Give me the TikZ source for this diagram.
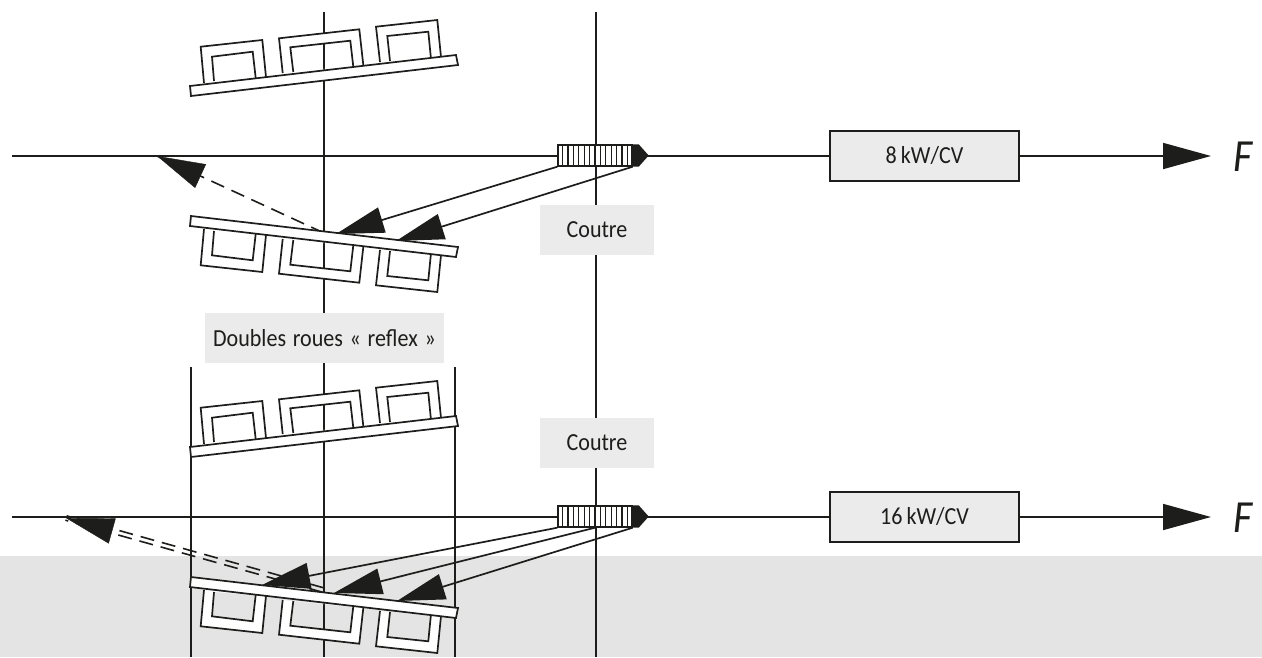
\documentclass[tikz,border=0pt]{standalone}
\usepackage{fontspec}
\setmainfont[FakeStretch=0.9,WordSpace=1.35]{Carlito}
\usetikzlibrary{arrows.meta, calc}
\definecolor{encre}{RGB}{29,29,27}
\definecolor{bande}{RGB}{227,228,227}
\definecolor{cartouche}{RGB}{235,235,235}
\tikzset{
  trait/.style={line width=1.7pt, color=encre},
  fleche/.style={-{Triangle[length=48pt,width=26pt]}, line width=1.7pt, color=encre},
  pointille/.style={line width=1.6pt, color=encre, dash pattern=on 14pt off 8pt},
  tete/.style={-{Triangle[length=48pt,width=26pt]}, color=encre, dash pattern=on 0pt off 2000pt},
  etiquette/.style={rectangle, fill=cartouche, text=encre, font=\fontsize{24.5}{26}\selectfont,
    minimum height=50pt, inner sep=0pt},
  boite/.style={rectangle, draw=encre, fill=cartouche, text=encre, line width=1.7pt,
    minimum width=189pt, minimum height=50pt, font=\fontsize{24.5}{26}\selectfont, inner sep=0pt},
  force/.style={text=encre, font=\fontsize{46}{50}\selectfont\itshape, inner sep=0pt},
  socbox/.style={rectangle, draw=encre, fill=white, line width=1.4pt,
    minimum width=74pt, minimum height=21pt, inner sep=0pt},
  roues/.pic={
    \pneu{(204,-73)}{(200.7,-109.3)}{(262.3,-116)}{(266,-79)}{(214,-75)}{(212,-99.3)}{(252.7,-104.3)}{(255.7,-78)}
    \pneu{(282.7,-83)}{(279,-117.7)}{(359.3,-126.7)}{(363.3,-91)}{(293.3,-84)}{(290.3,-108.7)}{(350.3,-115.3)}{(353.3,-89.3)}
    \pneu{(380,-94)}{(376,-129.3)}{(437.3,-136)}{(441,-99)}{(390,-95)}{(387.3,-120)}{(428.3,-124.3)}{(431,-97)}
    \draw[trait,fill=white] (190,-70)--(456,-101)--(458,-91)--(191,-60)--cycle;
  }
}
\newcommand{\pneu}[8]{%
  \fill[white,even odd rule] #1--#2--#3--#4--cycle #5--#6--#7--#8--cycle;
  \draw[trait] #1--#2--#3--#4 #5--#6--#7--#8;
}
\newcommand{\soc}[2]{%
  \node[socbox] (#1) at (595,#2) {};
  \foreach \i in {1,...,13}
    \draw[encre,line width=1.2pt] ($(#1.south west)!\i/14!(#1.south east)$) -- ($(#1.north west)!\i/14!(#1.north east)$);
  \fill[encre] (#1.north east) -- ++(6,0) -- ($(#1.east)+(16,0)$) -- ($(#1.south east)+(6,0)$) -- (#1.south east) -- cycle;
}
\begin{document}
\begin{tikzpicture}[x=1pt,y=-1pt]
  \useasboundingbox (0,0) rectangle (1262,657);
  \fill[bande] (0,556) rectangle (1262,657);
  % Verticales
  \draw[trait] (324,12)--(324,657);
  \draw[trait] (596,12)--(596,657);
  \draw[trait] (191,367)--(191,657);
  \draw[trait] (455,367)--(455,657);
  % Haut : 8 kW/CV
  \coordinate (gauche1) at (12,156);
  \coordinate (fin1) at (1211,156);
  \coordinate (sillon1) at (324,233);
  \coordinate (retour1) at (157,156);
  \coordinate (appui1) at (336,234);
  \coordinate (appui2) at (396,241);
  \node[boite] (puissance1) at (924.5,156) {8\,kW/CV};
  \node[force] (force1) at (1243,157) {F};
  \draw[trait] (gauche1) -- (puissance1);
  \draw[fleche] (puissance1) -- (fin1);
  \draw[pointille] (sillon1) -- (retour1);
  \draw[tete] (sillon1) -- (retour1);
  \pic at (0,156) {roues};
  \pic[yscale=-1] at (0,156) {roues};
  \soc{soc1}{155.5}
  \draw[fleche] (soc1.south west) -- (appui1);
  \draw[fleche] (soc1.south east) -- (appui2);
  \node[etiquette,minimum width=114pt] (coutre1) at (597,230) {Coutre};
  \node[etiquette,minimum width=239pt] (doubles) at (324.5,338) {Doubles roues « reflex »};
  % Bas : 16 kW/CV
  \coordinate (gauche2) at (12,517);
  \coordinate (fin2) at (1211,517);
  \coordinate (sillon2) at (323,590);
  \coordinate (retour2) at (66,518);
  \coordinate (appui3) at (262,585);
  \coordinate (appui4) at (334,593);
  \coordinate (appui5) at (397,601);
  \node[boite] (puissance2) at (924.5,517) {16\,kW/CV};
  \node[force] (force2) at (1243,518) {F};
  \draw[trait] (gauche2) -- (puissance2);
  \draw[fleche] (puissance2) -- (fin2);
  \draw[pointille,transform canvas={shift={(0.6pt,2.2pt)}}] (sillon2) -- (retour2);
  \draw[pointille,transform canvas={shift={(-0.6pt,-2.2pt)}}] (sillon2) -- (retour2);
  \draw[tete] (sillon2) -- (retour2);
  \pic at (0,517) {roues};
  \pic[yscale=-1] at (0,517) {roues};
  \soc{soc2}{516.5}
  \draw[fleche] (soc2.south west) -- (appui3);
  \draw[fleche] (soc2.south) -- (appui4);
  \draw[fleche] (soc2.south east) -- (appui5);
  \node[etiquette,minimum width=114pt] (coutre2) at (597,443) {Coutre};
\end{tikzpicture}
\end{document}
